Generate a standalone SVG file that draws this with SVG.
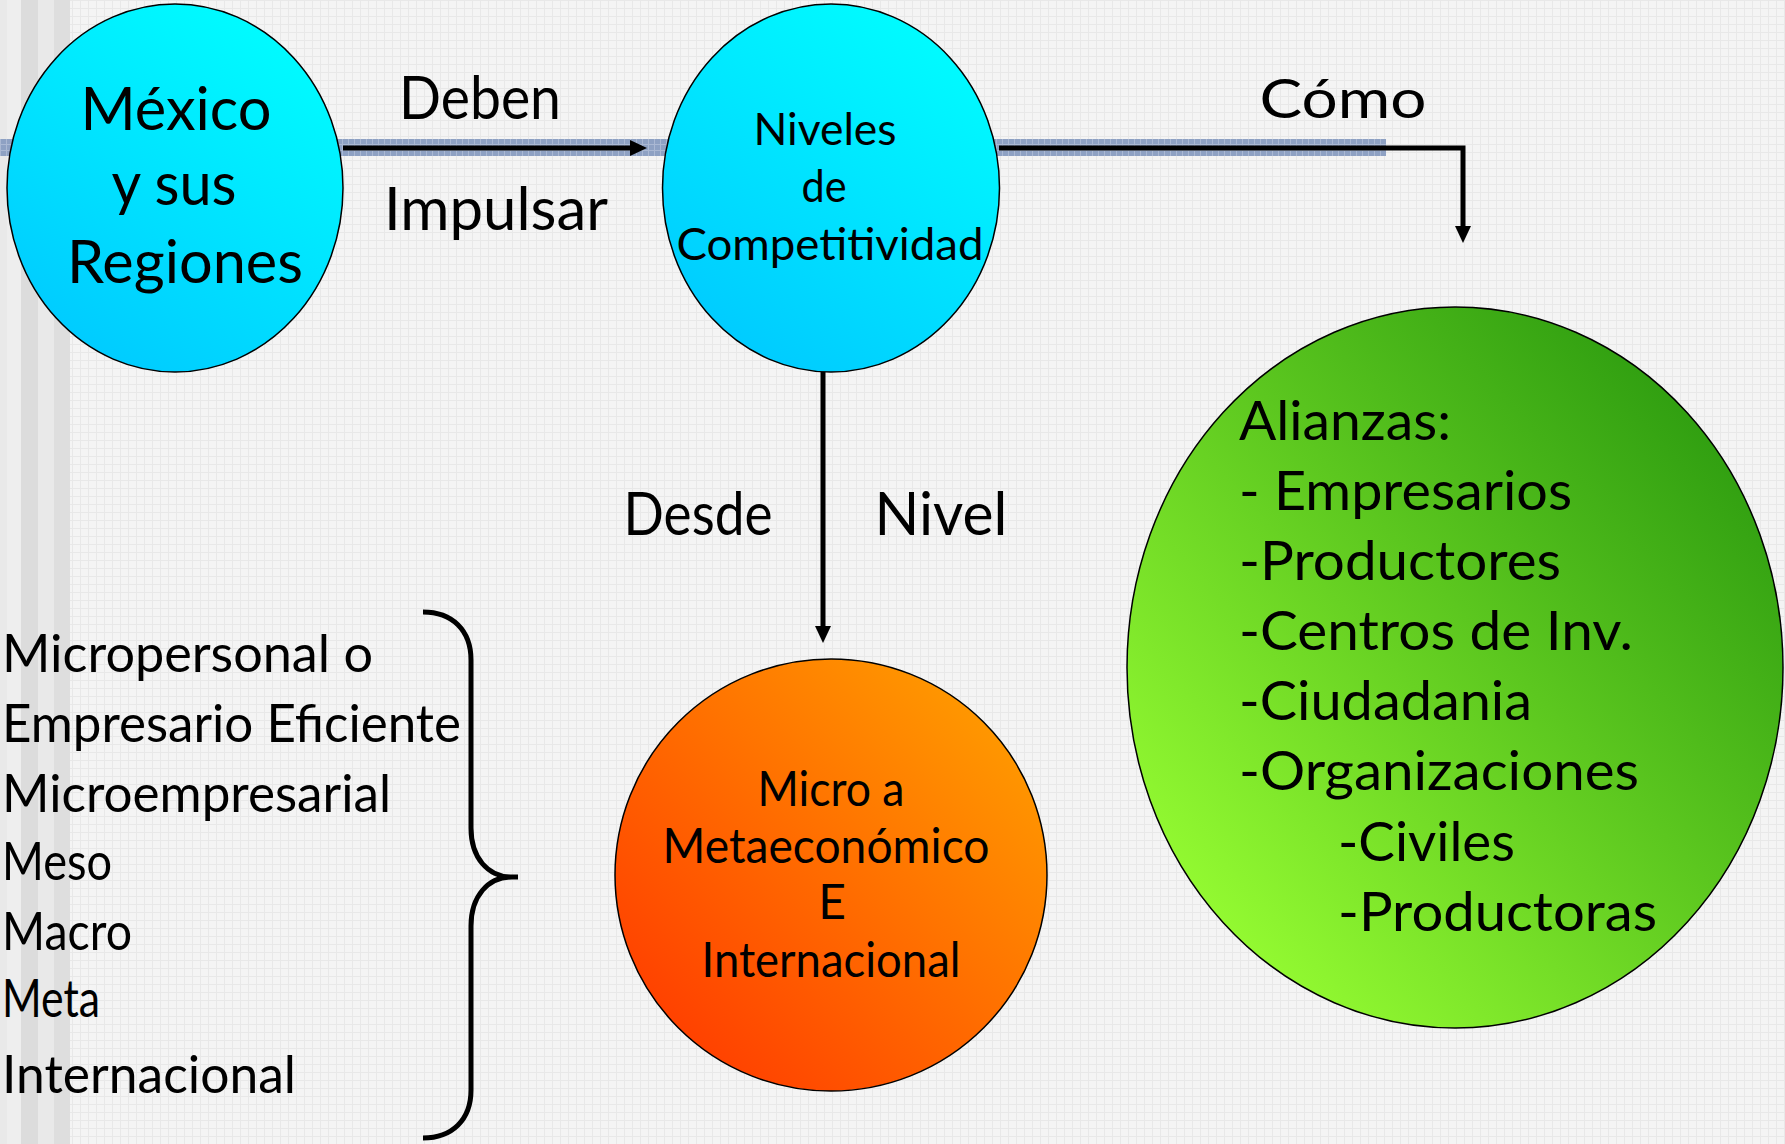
<svg xmlns="http://www.w3.org/2000/svg" width="1785" height="1144" viewBox="0 0 1785 1144">
  <defs>
    <style>
      .t { font-family: Lato, "Open Sans", "Liberation Sans", sans-serif; fill: #000; }
      .node { stroke: #000; stroke-width: 1.5; }
      .conn { fill: none; stroke: #000; stroke-width: 5; }
    </style>
    <pattern id="grid" width="8" height="8" patternUnits="userSpaceOnUse">
      <rect width="8" height="8" fill="#f4f4f4"/>
      <path d="M0,0.5H8M0.5,0V8" stroke="#e8e8e8" stroke-width="1"/>
    </pattern>
    <pattern id="bandpat" width="6" height="6" patternUnits="userSpaceOnUse">
      <rect width="6" height="6" fill="#8ea1c3"/>
      <path d="M0,0.5H6M0.5,0V6" stroke="#aab8d3" stroke-width="1"/>
    </pattern>
    <linearGradient id="gCyan" x1="0.2" y1="1" x2="0.8" y2="0">
      <stop offset="0" stop-color="#00c8ff"/>
      <stop offset="1" stop-color="#00ffff"/>
    </linearGradient>
    <linearGradient id="gOrange" x1="0.1" y1="0.9" x2="0.9" y2="0.1">
      <stop offset="0" stop-color="#ff3c00"/>
      <stop offset="1" stop-color="#ff9c00"/>
    </linearGradient>
    <linearGradient id="gGreen" x1="0.1" y1="0.9" x2="0.9" y2="0.1">
      <stop offset="0" stop-color="#99ff33"/>
      <stop offset="1" stop-color="#2b9a0f"/>
    </linearGradient>
    <marker id="arr" viewBox="0 0 17 16" refX="0" refY="8" markerWidth="17" markerHeight="16" markerUnits="userSpaceOnUse" orient="auto">
      <path d="M0,0 L17,8 L0,16 z" fill="#000"/>
    </marker>
  </defs>

  <!-- background -->
  <rect width="1785" height="1144" fill="url(#grid)"/>
  <rect x="0" y="0" width="7" height="1144" fill="#e9e9e9"/>
  <rect x="7" y="0" width="14" height="1144" fill="#eeeeee"/>
  <rect x="21" y="0" width="17" height="1144" fill="#dcdcdc"/>
  <rect x="38" y="0" width="16" height="1144" fill="#e9e9e9"/>
  <rect x="54" y="0" width="16" height="1144" fill="#dedede"/>

  <!-- band behind top connectors -->
  <rect x="0" y="139" width="1386" height="17" fill="url(#bandpat)"/>

  <!-- connectors -->
  <g id="connectors">
    <path class="conn" d="M343,148 L630,148" marker-end="url(#arr)"/>
    <path class="conn" d="M999,148 L1463,148 L1463,226" stroke-linejoin="miter" marker-end="url(#arr)"/>
    <path class="conn" d="M823,372 L823,626" marker-end="url(#arr)"/>
    <path d="M423,612 C452,612 471,630 471,660 L471,828 C471,858 488,877 512,877 L518,877 M512,877 C488,877 471,896 471,926 L471,1090 C471,1120 452,1138 423,1138" fill="none" stroke="#000" stroke-width="5"/>
  </g>

  <!-- connector labels -->
  <g id="labels">
    <text class="t" x="480" y="119" font-size="60" text-anchor="middle" textLength="162" lengthAdjust="spacingAndGlyphs">Deben</text>
    <text class="t" x="496" y="230" font-size="60" text-anchor="middle" textLength="224" lengthAdjust="spacingAndGlyphs">Impulsar</text>
    <text class="t" x="1343" y="118" font-size="54" text-anchor="middle" textLength="167" lengthAdjust="spacingAndGlyphs">Cómo</text>
    <text class="t" x="698" y="535" font-size="60" text-anchor="middle" textLength="149" lengthAdjust="spacingAndGlyphs">Desde</text>
    <text class="t" x="941" y="535" font-size="60" text-anchor="middle" textLength="133" lengthAdjust="spacingAndGlyphs">Nivel</text>
  </g>

  <g id="node-mexico">
    <ellipse class="node" cx="175" cy="188" rx="168" ry="184" fill="url(#gCyan)"/>
    <text class="t" x="176" y="130" font-size="60" text-anchor="middle" textLength="191" lengthAdjust="spacingAndGlyphs">México</text>
    <text class="t" x="174" y="205" font-size="60" text-anchor="middle" textLength="125" lengthAdjust="spacingAndGlyphs">y sus</text>
    <text class="t" x="185" y="283" font-size="60" text-anchor="middle" textLength="236" lengthAdjust="spacingAndGlyphs">Regiones</text>
  </g>

  <g id="node-niveles">
    <ellipse class="node" cx="831" cy="188" rx="168.5" ry="184" fill="url(#gCyan)"/>
    <text class="t" x="825" y="145" font-size="45" text-anchor="middle" textLength="143" lengthAdjust="spacingAndGlyphs">Niveles</text>
    <text class="t" x="824" y="202" font-size="45" text-anchor="middle" textLength="45" lengthAdjust="spacingAndGlyphs">de</text>
    <text class="t" x="830" y="260" font-size="45" text-anchor="middle" textLength="307" lengthAdjust="spacingAndGlyphs">Competitividad</text>
  </g>

  <g id="node-micro">
    <ellipse class="node" cx="831" cy="875" rx="216" ry="216" fill="url(#gOrange)"/>
    <text class="t" x="831" y="806" font-size="48" text-anchor="middle" textLength="147" lengthAdjust="spacingAndGlyphs">Micro a</text>
    <text class="t" x="826" y="863" font-size="48" text-anchor="middle" textLength="327" lengthAdjust="spacingAndGlyphs">Metaeconómico</text>
    <text class="t" x="832" y="919" font-size="48" text-anchor="middle">E</text>
    <text class="t" x="831" y="977" font-size="48" text-anchor="middle" textLength="259" lengthAdjust="spacingAndGlyphs">Internacional</text>
  </g>

  <g id="node-alianzas">
    <ellipse class="node" cx="1455" cy="667.5" rx="328" ry="360.5" fill="url(#gGreen)"/>
    <text class="t" x="1239" y="440" font-size="55" textLength="212" lengthAdjust="spacingAndGlyphs">Alianzas:</text>
    <text class="t" x="1239" y="510" font-size="55" textLength="333" lengthAdjust="spacingAndGlyphs">- Empresarios</text>
    <text class="t" x="1239" y="580" font-size="55" textLength="322" lengthAdjust="spacingAndGlyphs">-Productores</text>
    <text class="t" x="1239" y="650" font-size="55" textLength="394" lengthAdjust="spacingAndGlyphs">-Centros de Inv.</text>
    <text class="t" x="1239" y="720" font-size="55" textLength="293" lengthAdjust="spacingAndGlyphs">-Ciudadania</text>
    <text class="t" x="1239" y="790" font-size="55" textLength="400" lengthAdjust="spacingAndGlyphs">-Organizaciones</text>
    <text class="t" x="1338" y="861" font-size="55" textLength="177" lengthAdjust="spacingAndGlyphs">-Civiles</text>
    <text class="t" x="1338" y="931" font-size="55" textLength="319" lengthAdjust="spacingAndGlyphs">-Productoras</text>
  </g>

  <g id="node-lista">
    <text class="t" x="2" y="672" font-size="53" textLength="371" lengthAdjust="spacingAndGlyphs">Micropersonal o</text>
    <text class="t" x="2" y="742" font-size="53" textLength="459" lengthAdjust="spacingAndGlyphs">Empresario Eficiente</text>
    <text class="t" x="2" y="812" font-size="53" textLength="389" lengthAdjust="spacingAndGlyphs">Microempresarial</text>
    <text class="t" x="2" y="880" font-size="53" textLength="110" lengthAdjust="spacingAndGlyphs">Meso</text>
    <text class="t" x="2" y="950" font-size="53" textLength="130" lengthAdjust="spacingAndGlyphs">Macro</text>
    <text class="t" x="2" y="1017" font-size="53" textLength="98" lengthAdjust="spacingAndGlyphs">Meta</text>
    <text class="t" x="2" y="1093" font-size="53" textLength="294" lengthAdjust="spacingAndGlyphs">Internacional</text>
  </g>
</svg>
